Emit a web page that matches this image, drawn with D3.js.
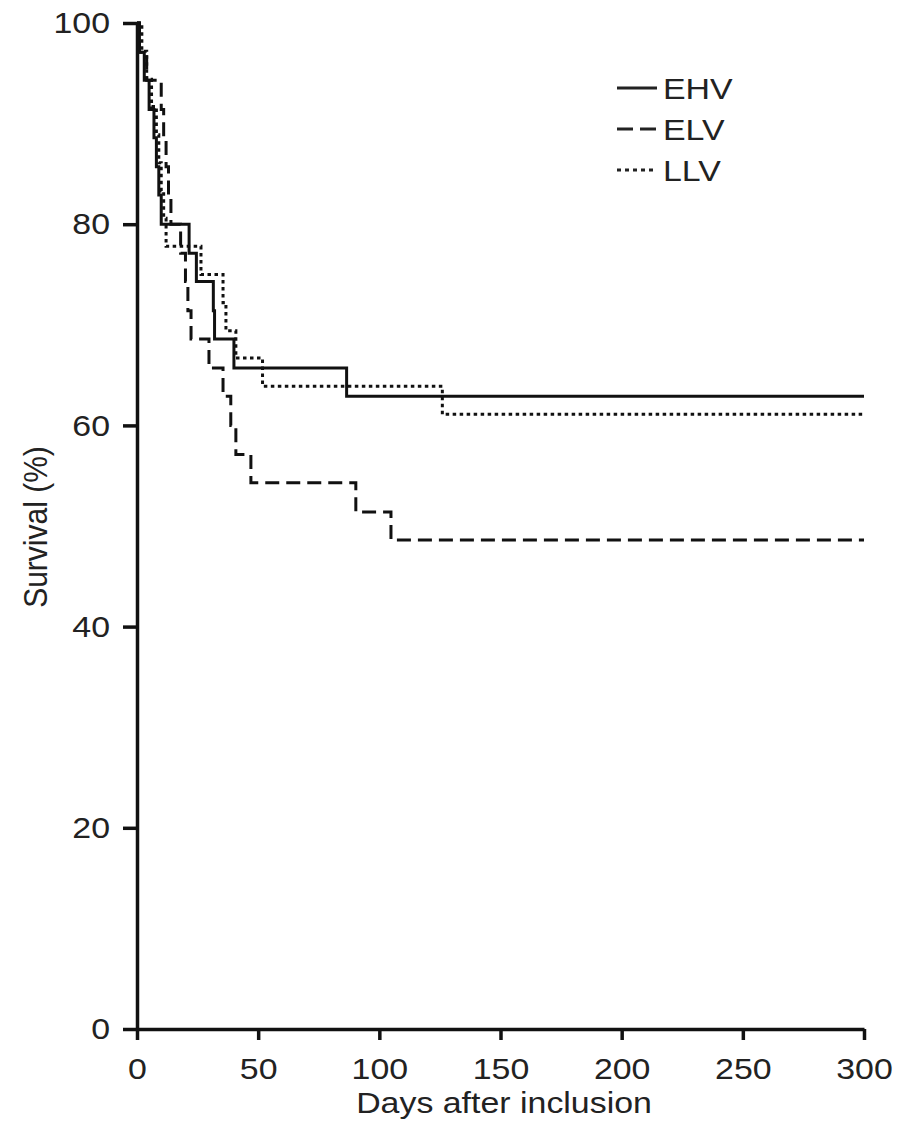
<!DOCTYPE html>
<html>
<head>
<meta charset="utf-8">
<script src="https://cdn.jsdelivr.net/npm/d3@7"></script>
<style>
  html, body { margin: 0; padding: 0; background: #fff; }
  svg { display: block; }
  text { font-family: "Liberation Sans", Arial, sans-serif; fill: #222; }
</style>
</head>
<body>
<div id="chart"></div>
<script>
// ---- data (days, survival %) : Kaplan-Meier step points ----
const seriesNames = ["EHV", "ELV", "LLV"];
const EHV = [[0,100],[1,97.1],[3,94.3],[5,91.4],[7,88.6],[8,85.7],[9,82.9],[10,80],[21.5,77.1],[24.5,74.3],[31.5,71.4],[32,68.6],[40,65.7],[86.5,62.9]];
const ELV = [[0,100],[1,97.1],[4,94.3],[10,91.4],[11,88.6],[12,85.7],[13,82.9],[14,80],[18,77.1],[20,74.3],[21,71.4],[22.3,68.6],[29.7,65.7],[35.5,62.9],[38.7,60],[40.8,57.1],[47,54.3],[90.3,51.4],[104.8,48.6]];
const LLV = [[0,100],[2,97.2],[4,94.4],[6,91.7],[8,88.9],[9,86.1],[10,83.3],[11,80.6],[12,77.8],[26.4,75],[35.5,72.2],[36.7,69.4],[40.8,66.7],[51.8,63.9],[126,61.1]];
const xTicks = [0, 50, 100, 150, 200, 250, 300];
const yTicks = [0, 20, 40, 60, 80, 100];
const xMax = 300;
const xTitle = "Days after inclusion";
const yTitle = "Survival (%)";

const W = 900, H = 1122;
const SX = 1.13; // horizontal stretch of the original picture's text
const svg = d3.select("#chart").append("svg").attr("width", W).attr("height", H);

const x = d3.scaleLinear().domain([0, 300]).range([137, 864]);
const y = d3.scaleLinear().domain([0, 100]).range([1029, 23]);

const styles = {
  EHV: { dash: null },
  ELV: { dash: "14,7" },
  LLV: { dash: "3.5,3.5" }
};
const dataMap = { EHV, ELV, LLV };

// curves
const line = d3.line().x(d => x(d[0])).y(d => y(d[1])).curve(d3.curveStepAfter);
seriesNames.slice().reverse().forEach(name => {
  const pts = dataMap[name].concat([[xMax, dataMap[name][dataMap[name].length - 1][1]]]);
  svg.append("path")
    .datum(pts)
    .attr("fill", "none")
    .attr("stroke", "#111")
    .attr("stroke-width", 3)
    .attr("stroke-dasharray", styles[name].dash)
    .attr("d", line);
});

// axes
const gx = svg.append("g").attr("transform", `translate(0,${y(0)})`)
  .call(d3.axisBottom(x).tickValues(xTicks).tickFormat(d3.format("d")).tickSize(11).tickSizeOuter(0).tickPadding(18));
const gy = svg.append("g").attr("transform", `translate(${x(0)},0)`)
  .call(d3.axisLeft(y).tickValues(yTicks).tickFormat(d3.format("d")).tickSize(14).tickSizeOuter(0));

[gx, gy].forEach(g => {
  g.select(".domain").attr("stroke", "#111").attr("stroke-width", 3.5);
  g.selectAll(".tick line").attr("stroke", "#111").attr("stroke-width", 3.5);
  g.selectAll(".tick text").attr("fill", "#222").style("font-size", "30px")
    .attr("font-family", null);
});
gx.selectAll(".tick text").attr("transform", `scale(${SX},1)`);
gy.selectAll(".tick text").attr("x", -27 / SX).attr("transform", `scale(${SX},1)`);

// titles
svg.append("text")
  .attr("transform", `translate(504,1113) scale(${SX},1)`)
  .attr("text-anchor", "middle")
  .style("font-size", "30px")
  .text(xTitle);
svg.append("text")
  .attr("transform", `translate(47,527) scale(${SX},1) rotate(-90)`)
  .attr("text-anchor", "middle")
  .style("font-size", "30px")
  .text(yTitle);

// legend
const legDash = { EHV: null, ELV: "16,7", LLV: "4,4" };
const leg = svg.append("g");
seriesNames.forEach((name, i) => {
  const cy = 88 + i * 41;
  leg.append("line")
    .attr("x1", 617).attr("x2", 657).attr("y1", cy).attr("y2", cy)
    .attr("stroke", "#222").attr("stroke-width", 3)
    .attr("stroke-dasharray", legDash[name]);
  leg.append("text")
    .attr("transform", `translate(663,${cy + 11}) scale(${SX},1)`)
    .style("font-size", "30px")
    .text(name);
});
</script>
</body>
</html>
